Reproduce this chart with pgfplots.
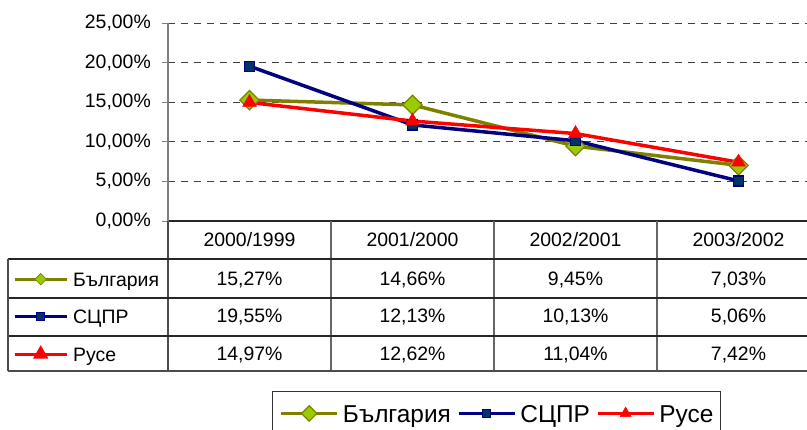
\documentclass[border=0pt]{standalone}
\usepackage{pgfplots}
\pgfplotsset{compat=1.18}
\usepackage{fontspec}
\setmainfont{Liberation Sans}

\definecolor{bgline}{HTML}{808000}
\definecolor{bgfill}{HTML}{99CC00}
\definecolor{scline}{HTML}{000080}
\definecolor{scfill}{HTML}{003366}
\definecolor{gridc}{HTML}{404040}
\newcommand{\tfont}{\fontsize{19.5}{22}\selectfont}
\newcommand{\lfont}{\fontsize{24.5}{27}\selectfont}

\begin{document}
\begin{tikzpicture}
\useasboundingbox (0,0) rectangle (807bp,-430bp);

% main chart
\begin{axis}[
  at={(168bp,-221bp)}, anchor=south west,
  scale only axis, width=652bp, height=198bp,
  xmin=-0.5, xmax=3.5, ymin=0, ymax=25,
  xtick=\empty,
  ytick={0,5,10,15,20,25},
  yticklabels={{0,00\%},{5,00\%},{10,00\%},{15,00\%},{20,00\%},{25,00\%}},
  yticklabel style={font=\tfont, inner sep=0pt, xshift=-11bp},
  ymajorgrids,
  grid style={gridc, dash pattern=on 7bp off 6bp, line width=1bp},
  axis x line*=bottom, axis y line*=left,
  axis line style={-},
  x axis line style={black!85, line width=1.3bp},
  y axis line style={gray, line width=1.3bp},
  tick align=outside, major tick length=6bp,
  tick style={gray, line width=1bp},
  legend image code/.code={
    \draw[mark repeat=2, mark phase=2, #1, every mark/.append style={scale=0.8}]
      plot coordinates {(0bp,0bp) (28bp,0bp) (56bp,0bp)};},
  legend columns=3,
  legend style={at={(0.1595,-0.8586)}, anchor=north west,
    draw=black!80, line width=1bp, inner xsep=7bp, inner ysep=13.2bp,
    font=\lfont, nodes={inner sep=0pt, text height=17.5bp, text depth=0pt},
    column sep=4bp, /tikz/every even column/.append style={column sep=6bp}},
]
\addplot[bgline, line width=3.5bp, mark=square*, mark size=6.8bp,
  mark options={rotate=45, fill=bgfill, draw=bgline, line width=1.2bp}]
  coordinates {(0,15.27) (1,14.66) (2,9.45) (3,7.03)};
\addlegendentry{България}
\addplot[scline, line width=3.5bp, mark=square*, mark size=5bp,
  mark options={fill=scfill, draw=scline, line width=1.2bp}]
  coordinates {(0,19.55) (1,12.13) (2,10.13) (3,5.06)};
\addlegendentry{СЦПР}
\addplot[red, line width=3.5bp, mark=triangle*, mark size=8bp,
  mark options={fill=red, draw=red, line width=0.5bp}]
  coordinates {(0,14.97) (1,12.62) (2,11.04) (3,7.42)};
\addlegendentry{Русе}
\end{axis}

% legend keys of the data table
\begin{axis}[
  at={(168bp,-221bp)}, anchor=south west,
  scale only axis, width=652bp, height=198bp,
  hide axis, xmin=0, xmax=1, ymin=0, ymax=1,
  legend image code/.code={
    \draw[mark repeat=2, mark phase=2, #1]
      plot coordinates {(0bp,0bp) (26bp,0bp) (52bp,0bp)};},
  legend cell align=left,
  legend style={at={(-0.2377,-0.2576)}, anchor=north west,
    draw=none, fill=none, inner sep=0pt, font=\tfont,
    nodes={inner sep=0pt, text height=14bp, text depth=0pt},
    row sep=23.5bp, column sep=5bp},
]
\addlegendimage{bgline, line width=3bp, mark=square*, mark size=4bp,
  mark options={rotate=45, fill=bgfill, draw=bgline, line width=0.8bp}}
\addlegendentry{България}
\addlegendimage{scline, line width=3bp, mark=square*, mark size=4bp,
  mark options={fill=scfill, draw=scline, line width=0.8bp}}
\addlegendentry{СЦПР}
\addlegendimage{red, line width=3bp, mark=triangle*, mark size=6bp,
  mark options={fill=red, draw=red}}
\addlegendentry{Русе}
\end{axis}

% data table
\begin{scope}[x=1bp, y=-1bp, line width=1.1bp]
\draw[black!70] (168,221) -- (168,371);
\foreach \xx in {331,494,657,820} \draw[black!60] (\xx,221) -- (\xx,371);
\draw[black!85] (8,259) -- (820,259);
\draw[black!85] (8,298) -- (820,298);
\draw[black!85] (8,336) -- (820,336);
\draw[black!70] (8,371) -- (820,371);
\draw[black!70] (8,259) -- (8,371);
\tikzset{cell/.style={font=\tfont, inner sep=0pt, text height=14bp, text depth=0pt}}
\node[cell] at (249.5,239) {2000/1999};
\node[cell] at (412.5,239) {2001/2000};
\node[cell] at (575.5,239) {2002/2001};
\node[cell] at (738.5,239) {2003/2002};
\node[cell] at (249.5,278) {15,27\%};
\node[cell] at (412.5,278) {14,66\%};
\node[cell] at (575.5,278) {9,45\%};
\node[cell] at (738.5,278) {7,03\%};
\node[cell] at (249.5,315.5) {19,55\%};
\node[cell] at (412.5,315.5) {12,13\%};
\node[cell] at (575.5,315.5) {10,13\%};
\node[cell] at (738.5,315.5) {5,06\%};
\node[cell] at (249.5,353) {14,97\%};
\node[cell] at (412.5,353) {12,62\%};
\node[cell] at (575.5,353) {11,04\%};
\node[cell] at (738.5,353) {7,42\%};
\end{scope}
\end{tikzpicture}
\end{document}
